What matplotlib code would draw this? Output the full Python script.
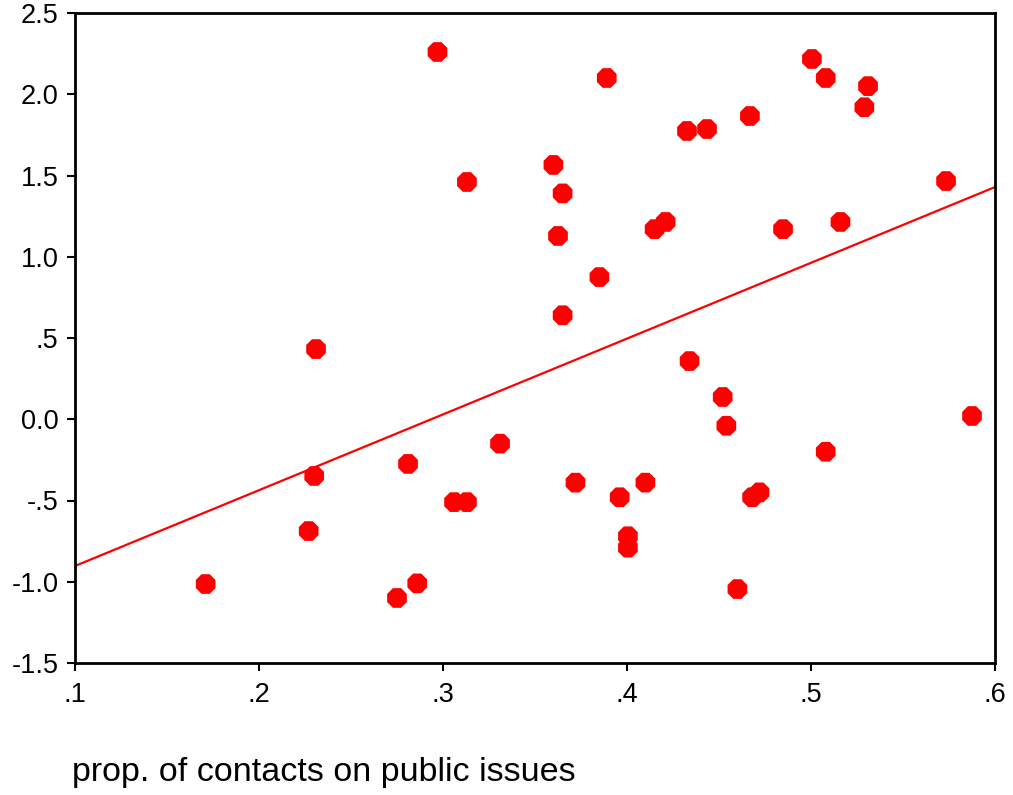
from matplotlib import pyplot as plt
import numpy as np

plt.rcParams['font.family'] = ['Liberation Sans', 'DejaVu Sans']

# prop. of contacts on public issues vs. outcome
prop_contacts = [0.171, 0.227, 0.230, 0.231, 0.275, 0.286, 0.281, 0.297, 0.313,
                 0.306, 0.313, 0.331, 0.360, 0.365, 0.3625, 0.365, 0.372, 0.385,
                 0.389, 0.396, 0.4005, 0.4005, 0.410, 0.415, 0.421, 0.4326, 0.4435,
                 0.434, 0.452, 0.454, 0.4668, 0.468, 0.472, 0.460, 0.4848, 0.5005,
                 0.508, 0.508, 0.516, 0.529, 0.531, 0.5734, 0.5875]
outcome = [-1.014, -0.688, -0.349, 0.432, -1.10, -1.01, -0.275, 2.26, 1.46,
           -0.51, -0.51, -0.15, 1.565, 1.39, 1.128, 0.64, -0.39, 0.875,
           2.10, -0.48, -0.72, -0.79, -0.39, 1.17, 1.214, 1.774, 1.786,
           0.358, 0.137, -0.04, 1.866, -0.48, -0.45, -1.045, 1.17, 2.217,
           2.10, -0.20, 1.214, 1.92, 2.05, 1.466, 0.02]

# fitted line (value at x=.1 and x=.6)
fit_x = [0.1, 0.6]
fit_y = [-0.903, 1.429]

xticks = [0.1, 0.2, 0.3, 0.4, 0.5, 0.6]
xtick_labels = ['.1', '.2', '.3', '.4', '.5', '.6']
yticks = [-1.5, -1.0, -0.5, 0.0, 0.5, 1.0, 1.5, 2.0, 2.5]
ytick_labels = ['-1.5', '-1.0', '-.5', '0.0', '.5', '1.0', '1.5', '2.0', '2.5']

fig = plt.figure(figsize=(10.13, 7.95), dpi=100)
ax = fig.add_axes([75 / 1013, 1 - 663 / 795, 920 / 1013, 650 / 795])

ax.plot(fit_x, fit_y, color='red', linewidth=1.6, zorder=2)
ax.scatter(prop_contacts, outcome, s=235, marker='8', color='red',
           edgecolors='none', zorder=3)

ax.set_xlim(0.1, 0.6)
ax.set_ylim(-1.5, 2.5)
ax.set_xticks(xticks)
ax.set_xticklabels(xtick_labels)
ax.set_yticks(yticks)
ax.set_yticklabels(ytick_labels)
ax.tick_params(axis='both', labelsize=19.5, length=6, width=1.5, direction='out')
ax.tick_params(axis='x', pad=8)
ax.tick_params(axis='y', pad=6)
for s in ax.spines.values():
    s.set_linewidth(2)

fig.text(72 / 1013, 1 - 772 / 795, 'prop. of contacts on public issues',
         fontsize=24.5, va='center', ha='left')

fig.savefig('out.png', dpi=100)
